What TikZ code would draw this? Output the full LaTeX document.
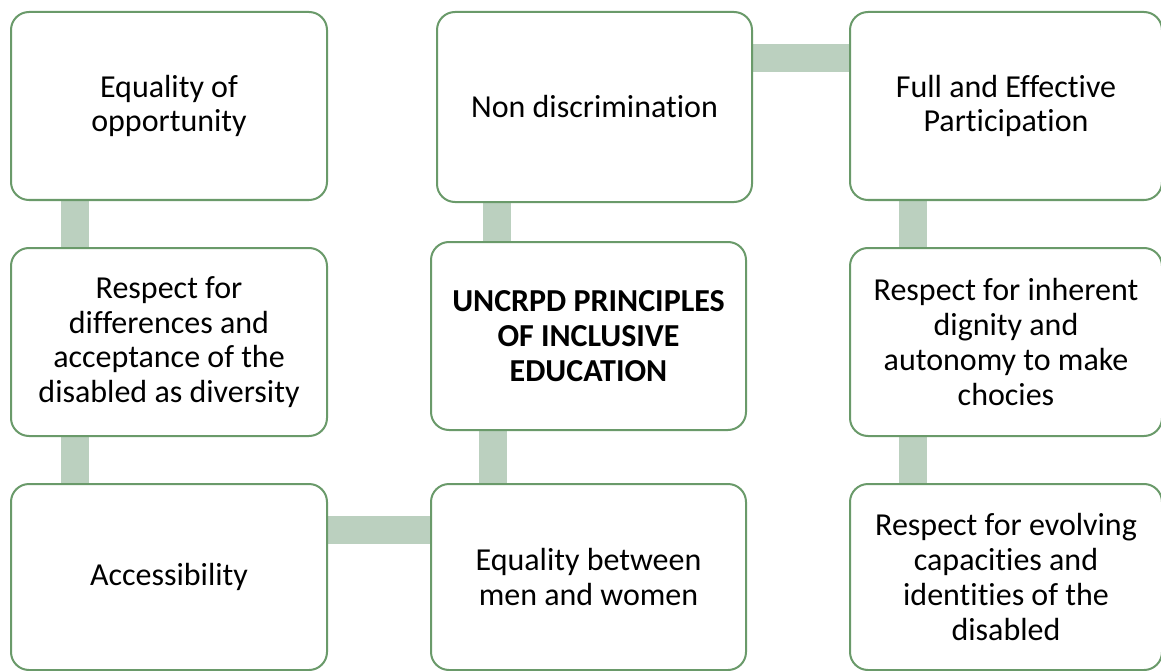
\documentclass[tikz,border=0pt]{standalone}
\usepackage{fontspec}
\setmainfont[Ligatures={NoCommon}]{Carlito}
\usetikzlibrary{backgrounds}
\definecolor{boxline}{RGB}{106,154,106}
\definecolor{barcol}{RGB}{187,208,191}
\begin{document}
\begin{tikzpicture}[x=1pt,y=-1pt,
  pbox/.style={draw=boxline, line width=2pt, fill=white, rounded corners=18pt,
    rectangle, inner sep=0pt, align=center, font=\fontsize{32}{34.7}\selectfont},
  conn/.style={draw=barcol, line width=28pt}]
\useasboundingbox (0,0) rectangle (1161,671);
% left column
\node[pbox, minimum width=316pt, minimum height=188pt] (b1) at (169,106) {Equality of\\opportunity};
\node[pbox, minimum width=316pt, minimum height=188pt] (b2) at (169,342) {Respect for\\differences and\\acceptance of the\\disabled as diversity};
\node[pbox, minimum width=316pt, minimum height=186pt] (b3) at (169,577) {Accessibility};
% middle column
\node[pbox, minimum width=315pt, minimum height=190pt] (mt) at (594.5,107) {Non discrimination};
\node[pbox, minimum width=315pt, minimum height=188pt] (mc) at (588.5,336) {\bfseries UNCRPD PRINCIPLES\\\bfseries OF INCLUSIVE\\\bfseries EDUCATION};
\node[pbox, minimum width=315pt, minimum height=186pt] (mb) at (588.5,577) {Equality between\\men and women};
% right column
\node[pbox, minimum width=312pt, minimum height=188pt] (r1) at (1006,106) {Full and Effective\\Participation};
\node[pbox, minimum width=312pt, minimum height=188pt] (r2) at (1006,342) {Respect for inherent\\dignity and\\autonomy to make\\chocies};
\node[pbox, minimum width=312pt, minimum height=186pt] (r3) at (1006,577) {Respect for evolving\\capacities and\\identities of the\\disabled};
\begin{scope}[on background layer]
\draw[conn] ([xshift=64.5pt]b1.south west) -- ([xshift=64.5pt]b2.north west);
\draw[conn] ([xshift=64.5pt]b2.south west) -- ([xshift=64.5pt]b3.north west);
\draw[conn] ([yshift=-46.5pt]b3.north east) -- ([yshift=-46.5pt]mb.north west);
\draw[conn] ([xshift=61pt]mt.south west) -- ([xshift=67pt]mc.north west);
\draw[conn] ([xshift=63pt]mc.south west) -- ([xshift=63pt]mb.north west);
\draw[conn] ([yshift=-47pt]mt.north east) -- ([yshift=-47pt]r1.north west);
\draw[conn] ([xshift=64pt]r1.south west) -- ([xshift=64pt]r2.north west);
\draw[conn] ([xshift=64pt]r2.south west) -- ([xshift=64pt]r3.north west);
\end{scope}
\end{tikzpicture}
\end{document}
